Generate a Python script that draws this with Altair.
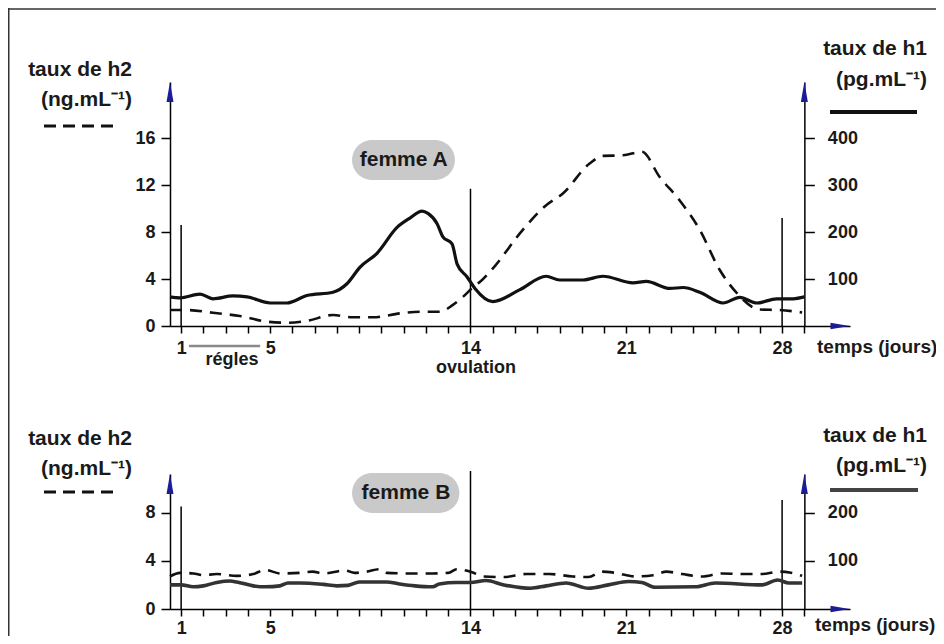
import altair as alt
import pandas as pd

W, H = 928, 628
FONT = "Liberation Sans"
INK = "#1a1a1a"
ARROW = "#1c1c96"

# ---------------- data ----------------
# femme A : h2 (ng/mL, dashed)
days_A_h2 = [0.5, 1.26, 2.43, 3.64, 4.86, 5.76, 6.65, 7.82, 8.72, 9.62, 10.83, 11.73,
             12.63, 13.21, 13.84, 14.1, 14.43, 15.0, 16.35, 17.4, 18.15, 19.35, 19.95,
             20.85, 21.7, 22.5, 23.4, 24.3, 25.2, 25.97, 27.0, 27.9, 28.9]
h2_A = [1.36, 1.36, 1.13, 0.85, 0.37, 0.28, 0.43, 0.94, 0.74, 0.74, 1.08, 1.22,
        1.22, 1.8, 2.8, 3.3, 3.77, 4.9, 8.2, 10.3, 11.3, 13.85, 14.5,
        14.55, 14.85, 12.7, 10.7, 8.2, 4.77, 2.8, 1.4, 1.36, 1.15]
# femme A : h1 (pg/mL, solid)
days_A_h1 = [0.5, 0.95, 1.85, 2.43, 3.33, 3.96, 5.0, 5.76, 6.65, 7.82, 8.45, 9.03, 9.8,
             10.7, 11.28, 11.82, 12.09, 12.5, 12.76, 13.17, 13.4, 13.84, 14.2, 15.0,
             16.2, 17.4, 18.0, 19.05, 19.95, 21.3, 21.9, 22.96, 23.55, 24.3, 25.35,
             26.1, 26.87, 27.75, 28.5, 29.0]
h1_A = [62, 60, 68, 58, 64, 62, 49, 49, 65, 72, 90, 125, 155,
        210, 230, 245, 240, 218, 190, 175, 132, 105, 80, 52,
        77, 106, 98, 98, 106, 92, 95, 80, 82, 72, 49,
        61, 49, 58, 58, 62]
# femme B : h2 (ng/mL, dashed)
days_B_h2 = [0.5, 0.95, 1.55, 2.0, 2.6, 3.5, 4.24, 4.77, 5.44, 6.34, 6.9, 7.39, 8.36,
             8.8, 9.33, 9.9, 10.23, 11.13, 12.3, 13.0, 13.38, 14.0, 14.6, 15.5, 16.5,
             17.55, 18.6, 19.3, 19.9, 20.5, 21.4, 22.2, 22.8, 23.5, 24.4, 25.3, 26.2,
             27.1, 27.9, 28.4, 28.9]
h2_B = [2.7, 3.0, 2.95, 2.8, 2.9, 2.75, 2.9, 3.25, 2.95, 3.0, 3.1, 2.95, 3.2,
        3.0, 3.1, 3.3, 3.0, 2.95, 2.95, 3.0, 3.3, 3.1, 2.7, 2.65, 2.9,
        2.9, 2.7, 2.65, 3.1, 3.0, 2.7, 2.8, 3.1, 2.9, 2.7, 2.95, 2.9,
        2.9, 3.1, 3.0, 2.75]
# femme B : h1 (pg/mL, solid)
days_B_h1 = [0.5, 1.0, 1.55, 2.0, 2.6, 3.2, 3.5, 4.24, 4.77, 5.44, 5.8, 6.34, 7.39,
             8.0, 8.5, 9.0, 9.6, 10.23, 10.8, 11.5, 12.3, 12.6, 13.38, 14.0, 14.7,
             15.5, 16.7, 17.4, 18.3, 19.3, 20.2, 21.1, 21.7, 22.3, 24.1, 25.0, 27.1,
             27.8, 28.3, 28.9]
h1_B = [50, 50, 46, 48, 55, 58, 56, 48, 46, 48, 54, 54, 51,
        48, 49, 56, 56, 56, 52, 48, 46, 52, 55, 55, 59,
        50, 43, 48, 54, 43, 50, 57, 55, 45, 46, 54, 50,
        60, 54, 54]

marker_days = [1, 14, 28]
marker_top_A = [8.6, 11.7, 9.2]
marker_top_B = [8.5, 11.45, 9.05]

left_ticks_A = [0, 4, 8, 12, 16]
right_ticks_A = [100, 200, 300, 400]
left_ticks_B = [0, 4, 8]
right_ticks_B = [100, 200]
day_ticks = list(range(1, 30))
day_labels = [1, 5, 14, 21, 28]

# ---------------- scales ----------------
X_DOM = [0.5, 31.05]
X_RNG = [162, 842]


def xpix(d):
    return X_RNG[0] + (d - X_DOM[0]) / (X_DOM[1] - X_DOM[0]) * (X_RNG[1] - X_RNG[0])


def xs():
    return alt.Scale(domain=X_DOM, range=X_RNG, nice=False, zero=False)


def ysc(top, y0, y1):
    return alt.Scale(domain=[0, top], range=[y0, y1], nice=False, zero=False)


yA = (20.8, 318, 74)
yA_r = (520, 318, 74)
yB = (11.2, 601, 466)
yB_r = (280, 601, 466)

RIGHT_OFF = xpix(29) - W

label_expr = "indexof(%s, datum.value) >= 0 ? datum.label : ''" % str(day_labels)

common_axis = dict(
    grid=False, title=None, domainColor="black", domainWidth=1.5,
    tickColor="black", tickWidth=1.5, labelFont=FONT, labelFontSize=18,
    labelFontWeight="bold", labelColor=INK,
)


def x_axis(offset, pad):
    return alt.Axis(orient="bottom", offset=offset, values=day_ticks,
                    labelExpr=label_expr, tickSize=7, labelPadding=pad,
                    labelFlush=False, labelOverlap=False, **common_axis)


def left_axis(vals):
    return alt.Axis(orient="left", offset=-X_RNG[0], values=vals, tickSize=9,
                    labelPadding=6, **common_axis)


def right_axis(vals):
    return alt.Axis(orient="right", offset=RIGHT_OFF, values=vals, tickSize=10,
                    labelPadding=13, **common_axis)


def panel(d2, v2, d1, v1, mtop, yl, yr, xoff, xpad, lt, rt, pill, name, arrow_y,
          solid_color, solid_w):
    df2 = pd.DataFrame({"jour": d2, "v": v2})
    df1 = pd.DataFrame({"jour": d1, "v": v1})
    dfm = pd.DataFrame({"jour": marker_days, "y0": [0] * 3, "y1": mtop})
    dfa = pd.DataFrame({"jour": [X_DOM[0], 29], "v": [arrow_y, arrow_y]})
    dfx = pd.DataFrame({"jour": [30.6], "v": [0]})
    dfp = pd.DataFrame({"a": [pill[0]], "b": [pill[1]], "c": [pill[2]], "d": [pill[3]],
                        "cx": [pill[4]], "cy": [pill[5]], "t": [name]})

    pill_rect = alt.Chart(dfp).mark_rect(cornerRadius=20, color="#c9c9c9").encode(
        x=alt.X("a:Q", scale=xs(), axis=None), x2="b:Q",
        y=alt.Y("c:Q", scale=ysc(*yl), axis=None), y2="d:Q")
    pill_text = alt.Chart(dfp).mark_text(font=FONT, fontSize=21, fontWeight="bold",
                                         color=INK, baseline="middle").encode(
        x=alt.X("cx:Q", scale=xs(), axis=None),
        y=alt.Y("cy:Q", scale=ysc(*yl), axis=None),
        text="t:N")
    rules = alt.Chart(dfm).mark_rule(color="black", strokeWidth=1.5).encode(
        x=alt.X("jour:Q", scale=xs(), axis=None),
        y=alt.Y("y0:Q", scale=ysc(*yl), axis=None), y2="y1:Q")
    dashed = alt.Chart(df2).mark_line(color="#111", strokeWidth=2.6, strokeDash=[12, 8],
                                      interpolate="monotone").encode(
        x=alt.X("jour:Q", scale=xs(), axis=x_axis(xoff, xpad)),
        y=alt.Y("v:Q", scale=ysc(*yl), axis=left_axis(lt)))
    solid = alt.Chart(df1).mark_line(color=solid_color, strokeWidth=solid_w,
                                     interpolate="monotone").encode(
        x=alt.X("jour:Q", scale=xs(), axis=None),
        y=alt.Y("v:Q", scale=ysc(*yr), axis=right_axis(rt)))
    yarrows = alt.Chart(dfa).mark_point(shape="M0,-1L0.35,1L-0.35,1Z", size=400,
                                        filled=True, opacity=1, color=ARROW).encode(
        x=alt.X("jour:Q", scale=xs(), axis=None),
        y=alt.Y("v:Q", scale=ysc(*yl), axis=None))
    xarrow = alt.Chart(dfx).mark_point(shape="M1,0L-1,-0.35L-1,0.35Z", size=361,
                                       filled=True, opacity=1, color=ARROW).encode(
        x=alt.X("jour:Q", scale=xs(), axis=None),
        y=alt.Y("v:Q", scale=ysc(*yl), axis=None))
    return [pill_rect, rules, dashed, solid, yarrows, xarrow, pill_text]


layers_A = panel(days_A_h2, h2_A, days_A_h1, h1_A, marker_top_A, yA, yA_r,
                 318 - H, 6, left_ticks_A, right_ticks_A,
                 [8.68, 13.3, 12.45, 15.86, 11.0, 14.15], "femme A", 19.95,
                 "#111", 3.2)
layers_B = panel(days_B_h2, h2_B, days_B_h1, h1_B, marker_top_B, yB, yB_r,
                 601 - H, 3, left_ticks_B, right_ticks_B,
                 [8.68, 13.5, 7.97, 11.29, 11.1, 9.63], "femme B", 10.37,
                 "#333", 3.6)


# ---------------- annotations ----------------
def txt(s, x, y, align="left", size=21):
    return alt.Chart(pd.DataFrame({"t": [s]})).mark_text(
        font=FONT, fontSize=size, fontWeight="bold", color=INK, align=align,
        baseline="alphabetic").encode(x=alt.value(x), y=alt.value(y), text="t:N")


def hline(x1, x2, y, dash=None, color="#111", w=3.0):
    kw = dict(color=color, strokeWidth=w)
    if dash:
        kw["strokeDash"] = dash
    return alt.Chart(pd.DataFrame({"k": [0]})).mark_rule(**kw).encode(
        x=alt.value(x1), x2=alt.value(x2), y=alt.value(y))


annots = [
    txt("taux de h2", 124, 68, "right"),
    txt("(ng.mL⁻¹)", 124, 98, "right"),
    hline(36, 112, 118, dash=[12, 7]),
    txt("taux de h1", 919, 47, "right"),
    txt("(pg.mL⁻¹)", 919, 78, "right"),
    hline(822, 909, 104, w=4),
    txt("temps (jours)", 809, 345, "left", 19),
    txt("régles", 224, 357, "center", 18),
    txt("ovulation", 468, 365, "center", 18),
    txt("taux de h2", 124, 437, "right"),
    txt("(ng.mL⁻¹)", 124, 467, "right"),
    hline(36, 112, 484, dash=[12, 7]),
    txt("taux de h1", 919, 434, "right"),
    txt("(pg.mL⁻¹)", 919, 464, "right"),
    hline(822, 910, 482, color="#444", w=4),
    txt("temps (jours)", 807, 623, "left", 19),
    # frame of the figure
    alt.Chart(pd.DataFrame({"k": [0]})).mark_rule(color="#333", strokeWidth=1.5).encode(
        x=alt.value(0), x2=alt.value(W), y=alt.value(1)),
    alt.Chart(pd.DataFrame({"k": [0]})).mark_rule(color="#333", strokeWidth=1.5).encode(
        x=alt.value(0.75), y=alt.value(0), y2=alt.value(H)),
]

regles = alt.Chart(pd.DataFrame({"a": [1.35], "b": [4.55]})).mark_rule(
    color="#8a8a8a", strokeWidth=2.5).encode(
    x=alt.X("a:Q", scale=xs(), axis=None), x2="b:Q", y=alt.value(338))

chart = alt.layer(*layers_A, *layers_B, regles, *annots).resolve_scale(
    x="independent", y="independent").resolve_axis(
    x="independent", y="independent").properties(
    width=W, height=H, padding=0, autosize=alt.AutoSizeParams(type="none"),
    background="white").configure_view(stroke=None)

chart.save("out.html", embed_options={"renderer": "svg", "actions": False})
